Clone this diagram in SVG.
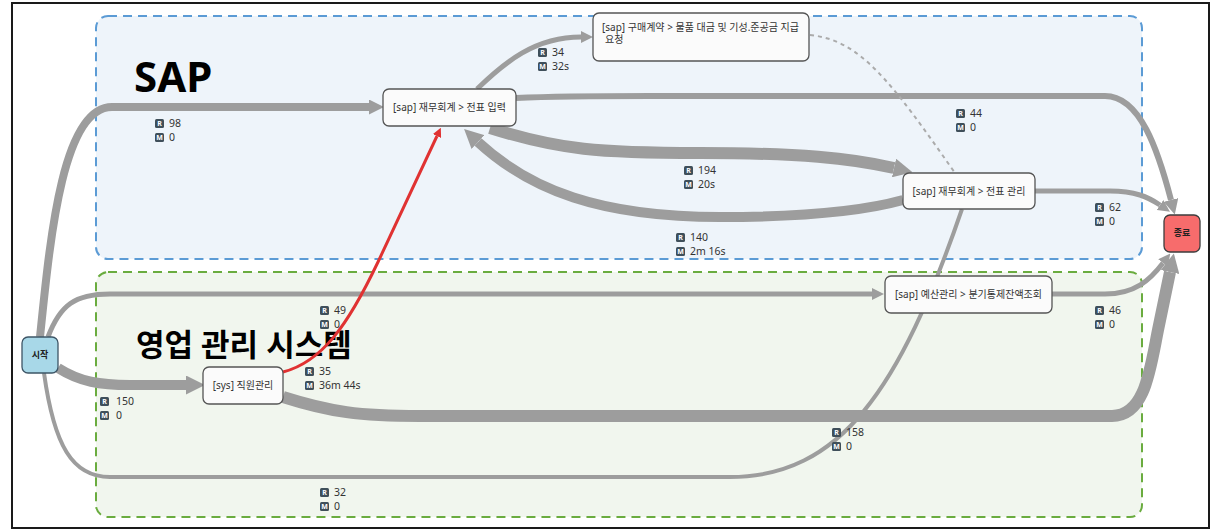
<svg xmlns="http://www.w3.org/2000/svg" width="1213" height="530" viewBox="0 0 1213 530">
<style>
.frame{fill:#ffffff;stroke:#1a1a1a;stroke-width:2}
.grpS{fill:#eef4fa;stroke:#5b9bd5;stroke-width:2;stroke-dasharray:9 6}
.grpG{fill:#f1f6ee;stroke:#6aac3f;stroke-width:2;stroke-dasharray:9 6}
.title{font-family:"Noto Sans","Open Sans","Noto Sans CJK KR",sans-serif;font-weight:bold;fill:#000}
.node rect{fill:#fbfbfb;stroke:#555;stroke-width:1.3}
.ntext{font-family:"Noto Sans","Noto Sans CJK KR",sans-serif;font-size:10px;fill:#333}
.etext{font-family:"Noto Sans CJK KR","Noto Sans",sans-serif;font-size:9px;font-weight:bold;fill:#222}
.edge{fill:none;stroke:#9d9d9d;stroke-linecap:butt}
.red{fill:none;stroke:#e03232;stroke-width:3}
.dot{fill:none;stroke:#ababab;stroke-width:2;stroke-dasharray:4 4}
.badge{fill:#3f4f5a}
.bl{font-family:"Noto Sans",sans-serif;font-size:7px;font-weight:bold;fill:#fff}
.lt{font-family:"Noto Sans",sans-serif;font-size:10.5px;fill:#333}
</style>
<defs>
<marker id="aS" viewBox="0 0 10 10" refX="0" refY="5" markerUnits="userSpaceOnUse" markerWidth="12" markerHeight="12" orient="auto"><path d="M0,0 L10,5 L0,10 z" fill="#9d9d9d"/></marker>
<marker id="aM" viewBox="0 0 10 10" refX="0" refY="5" markerUnits="userSpaceOnUse" markerWidth="15" markerHeight="15" orient="auto"><path d="M0,0 L10,5 L0,10 z" fill="#9d9d9d"/></marker>
<marker id="aL" viewBox="0 0 10 10" refX="0" refY="5" markerUnits="userSpaceOnUse" markerWidth="19" markerHeight="19" orient="auto"><path d="M0,0 L10,5 L0,10 z" fill="#9d9d9d"/></marker>
<marker id="aR" viewBox="0 0 10 10" refX="0" refY="5" markerUnits="userSpaceOnUse" markerWidth="9" markerHeight="9" orient="auto"><path d="M0,0 L10,5 L0,10 z" fill="#e03232"/></marker>
<g id="bR"><rect class="badge" x="0" y="0" width="9" height="9" rx="1.5"/><text class="bl" x="4.5" y="7.2" text-anchor="middle">R</text></g>
<g id="bM"><rect class="badge" x="0" y="0" width="9" height="9" rx="1.5"/><text class="bl" x="4.5" y="7.2" text-anchor="middle">M</text></g>
</defs>

<rect class="frame" x="12" y="3" width="1197" height="525"/>

<g id="group-sap">
<rect class="grpS" x="96" y="16" width="1046" height="243" rx="12"/>
<text class="title" x="134" y="92" font-size="42">SAP</text>
</g>
<g id="group-sales">
<rect class="grpG" x="96" y="272" width="1046" height="245" rx="12"/>
<text class="title" x="136" y="356" font-size="31">영업 관리 시스템</text>
</g>

<g id="connectors">
<path class="edge" stroke-width="8" d="M40 337 C50 240, 62 107, 112 107 L369 107" marker-end="url(#aM)"/>
<path class="edge" stroke-width="5" d="M48 337 C60 305, 75 294, 110 294 L872 294" marker-end="url(#aS)"/>
<path class="edge" stroke-width="10" d="M58 368 C80 382, 100 385, 130 385 L186 385" marker-end="url(#aL)"/>
<path class="edge" stroke-width="4" d="M44 373 C54 445, 72 477, 110 477 L730 477 C840 477, 900 390, 962 209"/>
<path class="edge" stroke-width="12" d="M283 397 C330 412, 360 416, 420 416 L1112 416 C1145 416, 1150 370, 1158 330 L1170 272" marker-end="url(#aL)"/>
<path class="red" d="M283 372 C322 362, 348 325, 378 262 L437 136" marker-end="url(#aR)"/>
<path class="edge" stroke-width="5" d="M477 89 C505 62, 535 37, 581 37" marker-end="url(#aS)"/>
<path class="edge" stroke-width="6" d="M516 98 C560 96, 600 96, 650 96 L1105 96 C1140 96, 1158 150, 1171 200" marker-end="url(#aM)"/>
<path class="edge" stroke-width="12" d="M490 128 C560 150, 600 153, 700 153 C800 153, 850 158, 894 168" marker-end="url(#aL)"/>
<path class="edge" stroke-width="10" d="M903 200 C860 212, 800 217, 720 217 C600 217, 530 190, 478 142" marker-end="url(#aL)"/>
<path class="edge" stroke-width="5" d="M1035 191 L1110 191 C1135 191, 1148 197, 1160 205" marker-end="url(#aS)"/>
<path class="edge" stroke-width="5" d="M1052 294 L1105 294 C1135 294, 1150 280, 1163 263" marker-end="url(#aS)"/>
<path class="dot" d="M810 35 C860 40, 890 80, 955 173"/>
</g>

<g id="edge-labels">
<use href="#bR" x="155" y="119"/><text class="lt" x="169" y="127">98</text>
<use href="#bM" x="155" y="133"/><text class="lt" x="169" y="141">0</text>
<use href="#bR" x="320" y="306"/><text class="lt" x="334" y="314">49</text>
<use href="#bM" x="320" y="320"/><text class="lt" x="334" y="328">0</text>
<use href="#bR" x="305" y="367"/><text class="lt" x="319" y="375">35</text>
<use href="#bM" x="305" y="381"/><text class="lt" x="319" y="389">36m 44s</text>
<use href="#bR" x="100" y="397"/><text class="lt" x="116" y="405">150</text>
<use href="#bM" x="100" y="411"/><text class="lt" x="116" y="419">0</text>
<use href="#bR" x="320" y="488"/><text class="lt" x="334" y="496">32</text>
<use href="#bM" x="320" y="502"/><text class="lt" x="334" y="510">0</text>
<use href="#bR" x="538" y="48"/><text class="lt" x="552" y="56">34</text>
<use href="#bM" x="538" y="62"/><text class="lt" x="552" y="70">32s</text>
<use href="#bR" x="684" y="166"/><text class="lt" x="698" y="174">194</text>
<use href="#bM" x="684" y="180"/><text class="lt" x="698" y="188">20s</text>
<use href="#bR" x="676" y="233"/><text class="lt" x="690" y="241">140</text>
<use href="#bM" x="676" y="247"/><text class="lt" x="690" y="255">2m 16s</text>
<use href="#bR" x="956" y="109"/><text class="lt" x="970" y="117">44</text>
<use href="#bM" x="956" y="123"/><text class="lt" x="970" y="131">0</text>
<use href="#bR" x="1095" y="203"/><text class="lt" x="1109" y="211">62</text>
<use href="#bM" x="1095" y="217"/><text class="lt" x="1109" y="225">0</text>
<use href="#bR" x="1095" y="306"/><text class="lt" x="1109" y="314">46</text>
<use href="#bM" x="1095" y="320"/><text class="lt" x="1109" y="328">0</text>
<use href="#bR" x="832" y="428"/><text class="lt" x="846" y="436">158</text>
<use href="#bM" x="832" y="442"/><text class="lt" x="846" y="450">0</text>
</g>

<g id="node-start" class="node">
<rect x="22" y="337" width="36" height="36" rx="6" style="fill:#a8d8e8;stroke:#3d5566"/>
<text class="etext" x="40" y="358" text-anchor="middle">시작</text>
</g>
<g id="node-end" class="node">
<rect x="1164" y="215" width="36" height="37" rx="6" style="fill:#f76c6c;stroke:#3d3d3d"/>
<text class="etext" x="1182" y="236" text-anchor="middle">종료</text>
</g>
<g id="node-voucher-entry" class="node">
<rect x="383" y="89" width="133" height="37" rx="6"/>
<text class="ntext" x="449.5" y="111" text-anchor="middle">[sap] 재무회계 &gt; 전표 입력</text>
</g>
<g id="node-purchase" class="node">
<rect x="593" y="13" width="216" height="48" rx="6"/>
<text class="ntext" x="602" y="31">[sap] 구매계약 &gt; 물품 대금 및 기성.준공금 지급</text>
<text class="ntext" x="605" y="43">요청</text>
</g>
<g id="node-voucher-manage" class="node">
<rect x="903" y="173" width="132" height="36" rx="6"/>
<text class="ntext" x="969" y="195" text-anchor="middle">[sap] 재무회계 &gt; 전표 관리</text>
</g>
<g id="node-budget" class="node">
<rect x="885" y="276" width="167" height="37" rx="6"/>
<text class="ntext" x="968.5" y="298" text-anchor="middle">[sap] 예산관리 &gt; 분기통제잔액조회</text>
</g>
<g id="node-staff" class="node">
<rect x="203" y="367" width="80" height="37" rx="6"/>
<text class="ntext" x="243" y="389" text-anchor="middle">[sys] 직원관리</text>
</g>
</svg>
